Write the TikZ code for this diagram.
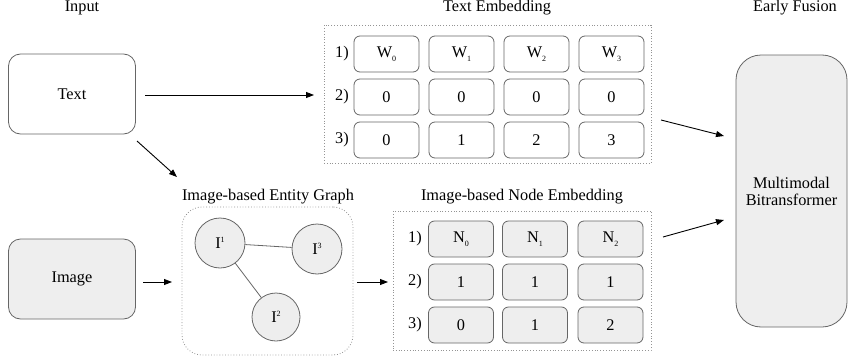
\documentclass[tikz,border=0pt]{standalone}
\usepackage{fontspec}
\setmainfont{Liberation Serif}
\usetikzlibrary{arrows.meta}
\definecolor{edge}{HTML}{666666}
\definecolor{shade}{HTML}{EEEEEE}
\newcommand{\lowidx}[1]{\raisebox{-0.55ex}{\fontsize{8}{8}\selectfont #1}}
\newcommand{\highidx}[1]{\raisebox{0.75ex}{\fontsize{8}{8}\selectfont #1}}
\begin{document}
\begin{tikzpicture}[x=1pt,y=-1pt,
  every node/.style={font=\fontsize{16.3}{18}\selectfont, inner sep=0pt},
  title/.style={anchor=base},
  inbox/.style={draw=edge, line width=0.8pt, rounded corners=12pt, minimum width=127pt, minimum height=80pt},
  cell/.style={draw=edge, line width=0.8pt, rounded corners=6pt, minimum width=65pt, minimum height=36pt},
  gcell/.style={cell, fill=shade},
  ent/.style={circle, draw=edge, line width=0.8pt, fill=shade, minimum size=50pt},
  frame/.style={draw=edge!70, dotted, line width=0.8pt},
  flow/.style={-{Triangle[length=8pt,width=6pt]}, line width=0.9pt, black},
  link/.style={draw=edge, line width=0.8pt}
]
\useasboundingbox (0,0) rectangle (849,364);

% column titles
\node[title] (tin) at (82,12) {Input};
\node[title] (tte) at (497,12) {Text Embedding};
\node[title] (tef) at (795,12) {Early Fusion};
\node[title] (tgr) at (268,200) {Image-based Entity Graph};
\node[title] (tne) at (522,200) {Image-based Node Embedding};

% inputs
\node[inbox] (text) at (72,94) {Text};
\node[inbox, fill=shade] (image) at (72,279) {Image};

% text embedding frame and cells
\node[frame, minimum width=327pt, minimum height=138pt] (teframe) at (487.5,94) {};
\foreach \r/\y in {1/54,2/97,3/140} \node (trl\r) at (342,\y) {\r)};
\node[cell] (w0) at (386.5,54) {W\lowidx{0}};
\node[cell] (w1) at (461.5,54) {W\lowidx{1}};
\node[cell] (w2) at (536.5,54) {W\lowidx{2}};
\node[cell] (w3) at (611.5,54) {W\lowidx{3}};
\node[cell] (s0) at (386.5,97) {0};
\node[cell] (s1) at (461.5,97) {0};
\node[cell] (s2) at (536.5,97) {0};
\node[cell] (s3) at (611.5,97) {0};
\node[cell] (p0) at (386.5,140) {0};
\node[cell] (p1) at (461.5,140) {1};
\node[cell] (p2) at (536.5,140) {2};
\node[cell] (p3) at (611.5,140) {3};

% entity graph
\node[frame, rounded corners=20pt, minimum width=171pt, minimum height=148pt] (gframe) at (267.5,281) {};
\node[ent] (i1) at (220,243) {I\highidx{1}};
\node[ent] (i3) at (317,249) {I\highidx{3}};
\node[ent, minimum size=48pt] (i2) at (276,317) {I\highidx{2}};
\draw[link] (i1) -- (i3);
\draw[link] (i1) -- (i2);

% node embedding frame and cells
\node[frame, minimum width=258pt, minimum height=139pt] (neframe) at (522,280.5) {};
\foreach \r/\y in {1/239,2/282,3/325} \node (nrl\r) at (415,\y) {\r)};
\node[gcell] (n0) at (461,239) {N\lowidx{0}};
\node[gcell] (n1) at (535,239) {N\lowidx{1}};
\node[gcell] (n2) at (610.5,239) {N\lowidx{2}};
\node[gcell] (m0) at (461,282) {1};
\node[gcell] (m1) at (535,282) {1};
\node[gcell] (m2) at (610.5,282) {1};
\node[gcell] (q0) at (461,325) {0};
\node[gcell] (q1) at (535,325) {1};
\node[gcell] (q2) at (610.5,325) {2};

% fusion model
\node[draw=edge, line width=0.8pt, fill=shade, rounded corners=25pt, minimum width=111pt, minimum height=272pt, align=center] (mmbt) at (791.5,191) {Multimodal\\[-1pt]Bitransformer};

% connectors
\coordinate (a1s) at (145,95);  \coordinate (a1e) at (314,95);
\coordinate (a2s) at (137,141); \coordinate (a2e) at (177,177);
\coordinate (a3s) at (143,282); \coordinate (a3e) at (172,282);
\coordinate (a4s) at (357,282); \coordinate (a4e) at (388,282);
\coordinate (a5s) at (661,120); \coordinate (a5e) at (724,136);
\coordinate (a6s) at (663,237); \coordinate (a6e) at (724,220);
\draw[flow] (a1s) -- (a1e);
\draw[flow] (a2s) -- (a2e);
\draw[flow] (a3s) -- (a3e);
\draw[flow] (a4s) -- (a4e);
\draw[flow] (a5s) -- (a5e);
\draw[flow] (a6s) -- (a6e);
\end{tikzpicture}
\end{document}
